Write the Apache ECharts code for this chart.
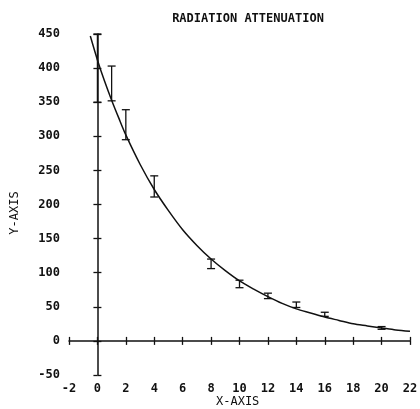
<!DOCTYPE html>
<html>
<head>
<meta charset="utf-8">
<script src="https://cdn.jsdelivr.net/npm/echarts@6/dist/echarts.min.js"></script>
<style>
  html, body { margin: 0; padding: 0; background: #fff; }
  #chart { width: 420px; height: 409px; }
</style>
</head>
<body>
<div id="chart"></div>
<script>
  // measured points with error bars: x, low, high
  var barX = [0, 1, 2, 4, 8, 10, 12, 14, 16, 20];
  var barLow = [350, 352, 295, 211, 106, 78, 62, 49, 36, 17];
  var barHigh = [450, 403, 339, 242, 120, 89, 70, 57, 42, 21];

  // fitted curve
  var curveX = [-0.5, 0, 0.5, 1, 1.5, 2, 3, 4, 5, 6, 7, 8, 9, 10, 11, 12, 13, 14, 15, 16, 17, 18, 19, 20, 21, 22];
  var curveY = [447, 412, 381, 353, 327, 302, 259, 222, 191, 163, 140, 120, 103, 88, 76, 65, 55, 47, 41, 35, 30, 25, 22, 19, 16, 14];

  var xTicks = { min: -2, max: 22, interval: 2 };
  var yTicks = { min: -50, max: 450, interval: 50 };

  var FONT = '"DejaVu Sans Mono", monospace';
  var INK = '#111';

  var myChart = echarts.init(document.getElementById('chart'));

  var bars = barX.map(function (x, i) { return [x, barLow[i], barHigh[i]]; });
  var curve = curveX.map(function (x, i) { return [x, curveY[i]]; });

  function errorBar(params, api) {
    var x = api.value(0);
    var lo = api.coord([x, api.value(1)]);
    var hi = api.coord([x, api.value(2)]);
    var w = 4;
    var style = { stroke: INK, lineWidth: 1.3, fill: null };
    return {
      type: 'group',
      children: [
        { type: 'line', shape: { x1: lo[0], y1: lo[1], x2: hi[0], y2: hi[1] }, style: style },
        { type: 'line', shape: { x1: lo[0] - w, y1: lo[1], x2: lo[0] + w, y2: lo[1] }, style: style },
        { type: 'line', shape: { x1: hi[0] - w, y1: hi[1], x2: hi[0] + w, y2: hi[1] }, style: style }
      ]
    };
  }

  var axisLabelStyle = { color: INK, fontFamily: FONT, fontSize: 12, fontWeight: 'bold' };

  myChart.setOption({
    animation: false,
    title: {
      text: 'RADIATION ATTENUATION',
      left: 243, top: 8, textAlign: 'center',
      textStyle: { fontFamily: FONT, fontSize: 12, fontWeight: 'bold', color: INK }
    },
    grid: { left: 69, right: 10, top: 34, bottom: 34, containLabel: false, outerBoundsMode: 'none' },
    xAxis: [
      {
        type: 'value', position: 'bottom',
        min: xTicks.min, max: xTicks.max, interval: xTicks.interval,
        axisLine: { show: true, onZero: true, lineStyle: { color: INK, width: 1.5 } },
        axisTick: { show: true, inside: false, length: 4, lineStyle: { color: INK, width: 1.3 } },
        axisLabel: Object.assign({ margin: 8 }, axisLabelStyle),
        splitLine: { show: false }
      },
      {
        type: 'value', position: 'top',
        min: xTicks.min, max: xTicks.max, interval: xTicks.interval,
        axisLine: { show: false, onZero: true },
        axisTick: { show: true, inside: false, length: 4, lineStyle: { color: INK, width: 1.3 } },
        axisLabel: { show: false },
        splitLine: { show: false }
      }
    ],
    yAxis: [
      {
        type: 'value', position: 'left',
        min: yTicks.min, max: yTicks.max, interval: yTicks.interval,
        axisLine: { show: true, onZero: true, lineStyle: { color: INK, width: 1.5 } },
        axisTick: { show: true, inside: false, length: 4, lineStyle: { color: INK, width: 1.3 } },
        axisLabel: Object.assign({ margin: 9 }, axisLabelStyle),
        splitLine: { show: false }
      },
      {
        type: 'value', position: 'right',
        min: yTicks.min, max: yTicks.max, interval: yTicks.interval,
        axisLine: { show: false, onZero: true },
        axisTick: { show: true, inside: false, length: 4, lineStyle: { color: INK, width: 1.3 } },
        axisLabel: { show: false },
        splitLine: { show: false }
      }
    ],
    graphic: [
      {
        type: 'text', left: 216, top: 396,
        style: { text: 'X-AXIS', fontFamily: FONT, fontSize: 12, fill: INK }
      },
      {
        type: 'text', x: 14.5, y: 213, rotation: Math.PI / 2,
        style: { text: 'Y-AXIS', fontFamily: FONT, fontSize: 12, fill: INK, align: 'center', verticalAlign: 'middle' }
      }
    ],
    series: [
      {
        type: 'line', data: curve, smooth: 0.3, showSymbol: false,
        lineStyle: { color: INK, width: 1.5 }, z: 3
      },
      {
        type: 'custom', renderItem: errorBar, data: bars,
        encode: { x: 0, y: [1, 2] }, z: 4
      }
    ]
  });
</script>
</body>
</html>
